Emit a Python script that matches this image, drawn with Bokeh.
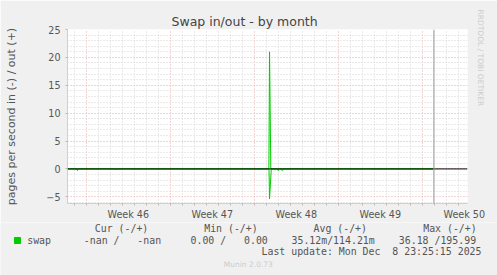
from bokeh.plotting import figure
from bokeh.models import (Range1d, FixedTicker, LinearAxis, Span, Grid, Title)
from bokeh.layouts import column
from bokeh.core.properties import value
from bokeh.embed import file_html
from bokeh.resources import INLINE

# ---------------- data ----------------
# x = days since Monday 10 Nov 2025 (start of ISO week 46)
week_labels = ["Week 46", "Week 47", "Week 48", "Week 49", "Week 50"]
week_starts = [0, 7, 14, 21, 28]
y_major = [-5, 0, 5, 10, 15, 20, 25]

out_day = [-1.56, 15.22, 15.275, 15.38, 28.97]
out_val = [0.0, 0.0, 21.0, 0.0, 0.0]

in_day = [-1.56, -0.81, -0.73, -0.65, 2.36, 2.44, 2.52, 15.23, 15.275, 15.42,
          15.92, 16.0, 16.08, 16.25, 16.33, 16.41, 28.97]
in_val = [0.0, 0.0, -0.3, 0.0, 0.0, -0.2, 0.0, 0.0, -5.4, 0.0,
          0.0, -0.3, 0.0, 0.0, -0.3, 0.0, 0.0]

now_day = 28.97  # Mon Dec 8 23:25

col_headers = ["Cur (-/+)", "Min (-/+)", "Avg (-/+)", "Max (-/+)"]
series_name = "swap"
series_stats = ["-nan /   -nan", "0.00 /   0.00", "35.12m/114.21m", "36.18 /195.99"]
last_update = "Last update: Mon Dec  8 23:25:15 2025"
munin_version = "Munin 2.0.73"
credit = "RRDTOOL / TOBI OETIKER"

# ---------------- styles ----------------
BG = "#F0F0F0"
AXIS = "#C8CCEE"
TXT = "#555555"
GREEN = "#00CC00"
FONT = "DejaVu Sans"
MONO = "DejaVu Sans Mono"


def keep_spaces(s):
    return s.replace(" ", "\u00a0")


p = figure(width=497, height=222, output_backend="svg", toolbar_location=None,
           x_range=Range1d(-1.56, 31.77), y_range=Range1d(-6.2, 25),
           min_border_left=67, min_border_right=30, min_border_top=29,
           min_border_bottom=18, x_axis_type=None, y_axis_type=None)
p.background_fill_color = "white"
p.border_fill_color = BG
p.outline_line_color = None

p.title.text = "Swap in/out - by month"
p.title.align = "left"
p.title.offset = 104
p.title.text_font = FONT
p.title.text_font_size = "12.5px"
p.title.text_font_style = "normal"
p.title.text_color = "#444444"
p.title.standoff = 2

# y axis
day_ticks = [d for d in range(-1, 32)]
y_minor = [v for v in range(-6, 26) if v % 5 != 0]
yaxis = LinearAxis(ticker=FixedTicker(ticks=y_major, minor_ticks=[]))
yaxis.axis_line_color = AXIS
yaxis.major_tick_line_color = "#BBBBBB"
yaxis.major_tick_out = 2
yaxis.major_tick_in = 0
yaxis.minor_tick_line_color = None
yaxis.major_label_standoff = 5
yaxis.major_label_text_font = FONT
yaxis.major_label_text_font_size = "9.6px"
yaxis.major_label_text_color = TXT
yaxis.axis_label = "pages per second in (-) / out (+)"
yaxis.axis_label_text_font = FONT
yaxis.axis_label_text_font_size = "11px"
yaxis.axis_label_text_font_style = "normal"
yaxis.axis_label_text_color = TXT
yaxis.axis_label_standoff = 25
p.add_layout(yaxis, "left")

# x axis: labels centred in each week, minor ticks on days
label_pos = [w + 3.5 for w in week_starts]
xaxis = LinearAxis(ticker=FixedTicker(ticks=label_pos, minor_ticks=day_ticks))
xaxis.major_label_overrides = {lp: lab for lp, lab in zip(label_pos, week_labels)}
xaxis.axis_line_color = AXIS
xaxis.major_tick_line_color = None
xaxis.major_tick_out = 0
xaxis.major_tick_in = 0
xaxis.minor_tick_line_color = "#BBBBBB"
xaxis.minor_tick_out = 2
xaxis.minor_tick_in = 0
xaxis.major_label_standoff = 3
xaxis.major_label_text_font = FONT
xaxis.major_label_text_font_size = "9.6px"
xaxis.major_label_text_color = TXT
p.add_layout(xaxis, "below")

# vertical credit on the right margin
ct = Title(text=credit, align="left", offset=-20, standoff=17,
           text_font=FONT, text_font_size="7.5px", text_font_style="normal",
           text_color="#CCCCCC")
p.add_layout(ct, "right")

# grids
p.xgrid.visible = False
p.ygrid.visible = False
xg = Grid(dimension=0, ticker=FixedTicker(ticks=week_starts,
          minor_ticks=[d for d in day_ticks if d not in week_starts]))
xg.grid_line_color = "#E8A8A8"
xg.grid_line_dash = "1 2"
xg.minor_grid_line_color = "#D4D4D4"
xg.minor_grid_line_dash = "1 2"
p.add_layout(xg, "center")
yg = Grid(dimension=1, ticker=FixedTicker(ticks=y_major, minor_ticks=y_minor))
yg.grid_line_color = "#E8A8A8"
yg.grid_line_dash = "1 2"
yg.minor_grid_line_color = "#D4D4D4"
yg.minor_grid_line_dash = "1 2"
p.add_layout(yg, "center")

# data
p.line(out_day, out_val, line_color=GREEN, line_width=1)
p.line(in_day, in_val, line_color=GREEN, line_width=1)

p.add_layout(Span(location=0, dimension="width", line_color="black", line_width=1))
p.add_layout(Span(location=now_day, dimension="height", line_color="#999999", line_width=1))

# ---------------- legend area ----------------
q = figure(width=497, height=53, output_backend="svg", toolbar_location=None,
           x_range=Range1d(0, 497), y_range=Range1d(275, 222),
           min_border=0, x_axis_type=None, y_axis_type=None)
q.background_fill_color = BG
q.border_fill_color = BG
q.outline_line_color = None
q.xgrid.visible = False
q.ygrid.visible = False

for fig in (p, q):
    if "frame_align" in fig.properties():
        fig.frame_align = False

hdr_x = [94.3, 203.7, 313.0, 422.7]
q.text(x=hdr_x, y=[227.7] * 4, text=[keep_spaces(s) for s in col_headers],
       text_font=value(MONO), text_font_size="9.9px", text_color=TXT,
       text_baseline="middle")
q.scatter(x=[17], y=[240], marker="square", size=6, color=GREEN)
row_x = [26.7, 83.3, 190.0, 291.0, 398.3]
q.text(x=row_x, y=[239.7] * 5,
       text=[keep_spaces(s) for s in [series_name] + series_stats],
       text_font=value(MONO), text_font_size="9.9px", text_color=TXT,
       text_baseline="middle")
q.text(x=[261], y=[251.3], text=[keep_spaces(last_update)], text_font=value(MONO),
       text_font_size="9.9px", text_color=TXT, text_baseline="middle")
q.text(x=[223.3], y=[264], text=[munin_version], text_font=value(FONT),
       text_font_size="7.5px", text_color="#CCCCCC", text_baseline="middle")

layout = column(p, q, spacing=0)
open("out.html", "w").write(file_html(layout, INLINE))
